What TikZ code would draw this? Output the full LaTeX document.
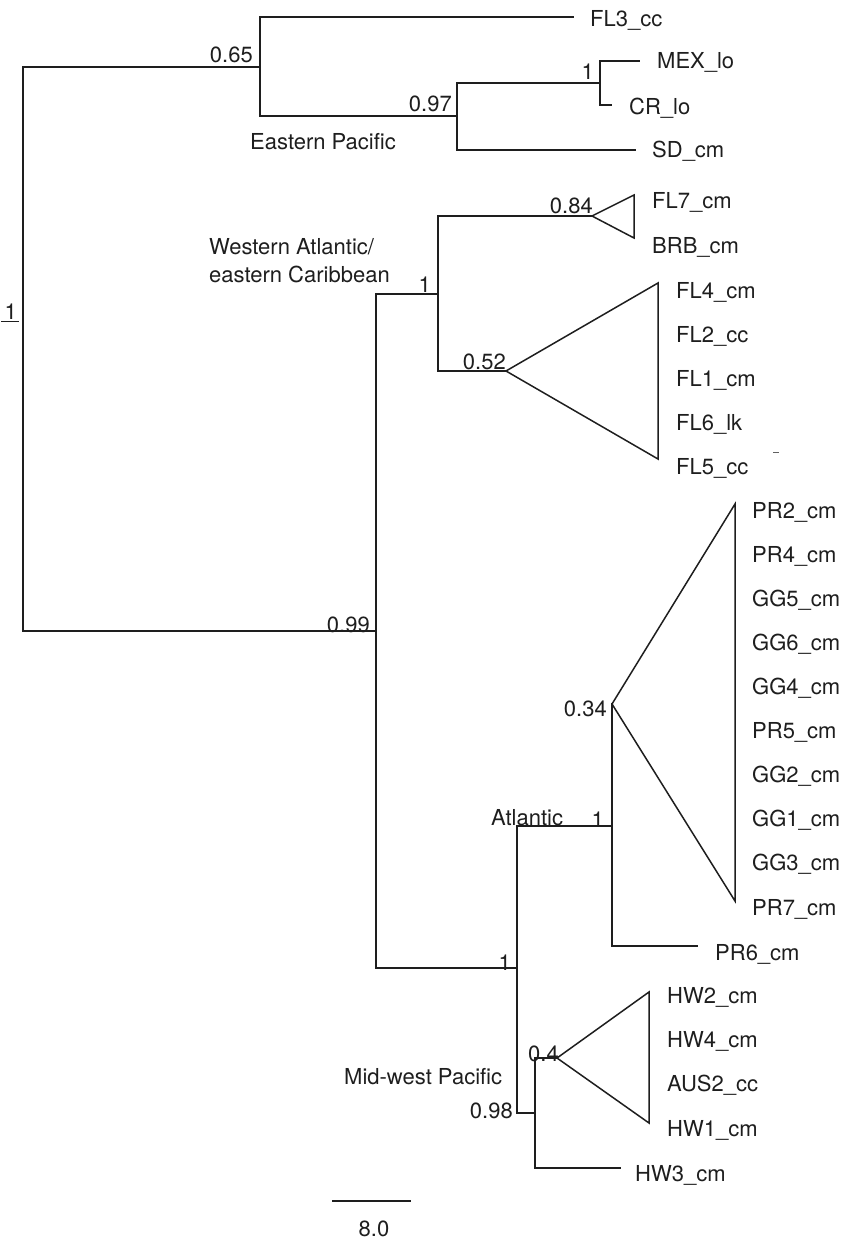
\documentclass[tikz,border=0pt]{standalone}
\usepackage{fontspec}
\setmainfont{TeX Gyre Heros}
\definecolor{ink}{HTML}{1E1E1E}
\newcommand\labfont{\fontsize{22}{26}\selectfont}
\begin{document}
\begin{tikzpicture}[x=1pt,y=-1pt,
  br/.style={draw=ink, line width=1.5pt, line cap=rect, line join=miter},
  thk/.style={br, line width=2.2pt},
  tri/.style={draw=ink, line width=1.5pt, line join=miter},
  tip/.style={anchor=base west, inner sep=0pt, font=\labfont, text=ink},
  sv/.style={anchor=base east, inner sep=0pt, font=\labfont, text=ink},
  grp/.style={anchor=base west, inner sep=0pt, font=\labfont, text=ink, align=left}]
\useasboundingbox (0,0) rectangle (844,1239);

% ---------- coordinates of branch points ----------
\coordinate (rT) at (23,67);   \coordinate (rB) at (23,631);
\coordinate (aM) at (260,67);  \coordinate (aT) at (260,17);  \coordinate (aB) at (260,116);
\coordinate (fl3e) at (573,17);
\coordinate (bM) at (457,116); \coordinate (bT) at (457,83);  \coordinate (bB) at (457,150);
\coordinate (cM) at (600,83);  \coordinate (cT) at (600,61);  \coordinate (cB) at (600,105);
\coordinate (mexe) at (639,61); \coordinate (cre) at (611,105); \coordinate (sde) at (635,150);
\coordinate (dM) at (376,631); \coordinate (dT) at (376,294); \coordinate (dB) at (376,968);
\coordinate (eM) at (438,294); \coordinate (eT) at (438,216); \coordinate (eB) at (438,371);
\coordinate (fA) at (592,216); \coordinate (fT) at (634,195); \coordinate (fB) at (634,238);
\coordinate (gA) at (506,371); \coordinate (gT) at (658,283); \coordinate (gB) at (658,459);
\coordinate (hM) at (517,968); \coordinate (hT) at (517,826); \coordinate (hB) at (517,1113);
\coordinate (iM) at (612,826); \coordinate (iT) at (612,704); \coordinate (iB) at (612,946);
\coordinate (pA) at (612,704); \coordinate (pT) at (735,504); \coordinate (pB) at (735,901);
\coordinate (pr6e) at (697,946);
\coordinate (jM) at (535,1113); \coordinate (jT) at (535,1058); \coordinate (jB) at (535,1168);
\coordinate (kA) at (557,1058); \coordinate (kT) at (649,992); \coordinate (kB) at (649,1123);
\coordinate (hw3e) at (620,1168);
\coordinate (sL) at (333,1201); \coordinate (sR) at (410,1201);
\coordinate (dotL) at (773,452); \coordinate (dotR) at (779,452);

% ---------- branches ----------
\draw[br] (aM) -- (rT) -- (rB) -- (dM);
\draw[br] (fl3e) -- (aT) -- (aB) -- (bM);
\draw[br] (cM) -- (bT) -- (bB) -- (sde);
\draw[br] (mexe) -- (cT) -- (cB) -- (cre);
\draw[br] (dT) -- (dB) -- (hM);
\draw[thk] (dT) -- (eM);
\draw[thk] (fA) -- (eT) -- (eB) -- (gA);
\draw[tri] (fA) -- (fT) -- (fB) -- cycle;
\draw[tri] (gA) -- (gT) -- (gB) -- cycle;
\draw[br] (iM) -- (hT) -- (hB) -- (jM);
\draw[br] (iT) -- (iB) -- (pr6e);
\draw[tri] (pA) -- (pT) -- (pB) -- cycle;
\draw[br] (kA) -- (jT) -- (jB) -- (hw3e);
\draw[tri] (kA) -- (kT) -- (kB) -- cycle;
\draw[br] (sL) -- (sR);
\draw[draw=ink!70, line width=1pt] (dotL) -- (dotR);

% ---------- tip labels ----------
\node[tip] (FL3) at (590,27) {FL3\_cc};
\node[tip] (MEX) at (657,68) {MEX\_lo};
\node[tip] (CR)  at (629,114) {CR\_lo};
\node[tip] (SD)  at (652,157) {SD\_cm};
\node[tip] (FL7) at (652,208) {FL7\_cm};
\node[tip] (BRB) at (652,253) {BRB\_cm};
\node[tip] (FL4) at (676,298) {FL4\_cm};
\node[tip] (FL2) at (676,342) {FL2\_cc};
\node[tip] (FL1) at (676,386) {FL1\_cm};
\node[tip] (FL6) at (676,430) {FL6\_lk};
\node[tip] (FL5) at (676,474) {FL5\_cc};
\node[tip] (PR2) at (752,518) {PR2\_cm};
\node[tip] (PR4) at (752,562) {PR4\_cm};
\node[tip] (GG5) at (752,606) {GG5\_cm};
\node[tip] (GG6) at (752,650) {GG6\_cm};
\node[tip] (GG4) at (752,694) {GG4\_cm};
\node[tip] (PR5) at (752,738) {PR5\_cm};
\node[tip] (GG2) at (752,782) {GG2\_cm};
\node[tip] (GG1) at (752,826) {GG1\_cm};
\node[tip] (GG3) at (752,870) {GG3\_cm};
\node[tip] (PR7) at (752,915) {PR7\_cm};
\node[tip] (PR6) at (715,960) {PR6\_cm};
\node[tip] (HW2) at (667,1003) {HW2\_cm};
\node[tip] (HW4) at (667,1047) {HW4\_cm};
\node[tip] (AUS2) at (667,1091) {AUS2\_cc};
\node[tip] (HW1) at (667,1136) {HW1\_cm};
\node[tip] (HW3) at (635,1181) {HW3\_cm};

% ---------- support values ----------
\node[sv] (s065) at (253,63) {0.65};
\node[sv] (s097) at (452,111) {0.97};
\node[sv] (s1a)  at (594,80) {1};
\node[sv] (s084) at (593,213) {0.84};
\node[sv] (s1b)  at (431,292) {1};
\node[sv] (s052) at (506,369) {0.52};
\node[sv] (s099) at (370,632) {0.99};
\node[sv] (s034) at (607,716) {0.34};
\node[sv] (s1c)  at (604,827) {1};
\node[sv] (s1d)  at (511,970) {1};
\node[tip] (s04) at (528,1061) {0.4};
\node[sv] (s098) at (513,1118) {0.98};
\node[sv] (s1r)  at (17,319) {1};
\draw[draw=ink, line width=1.2pt] ([yshift=-2.5pt,xshift=-3pt]s1r.south west) -- ([yshift=-2.5pt,xshift=2pt]s1r.south east);

% ---------- group labels ----------
\node[grp] (gEP) at (250,149) {Eastern Pacific};
\node[grp] (gWA) at (209,254) {Western Atlantic/};
\node[grp] (gWA2) at (209,282) {eastern Caribbean};
\node[grp] (gAT) at (491,825) {Atlantic};
\node[grp] (gMW) at (344,1084) {Mid-west Pacific};
\node[anchor=base, inner sep=0pt, font=\labfont, text=ink] (scl) at (374,1236) {8.0};
\end{tikzpicture}
\end{document}
